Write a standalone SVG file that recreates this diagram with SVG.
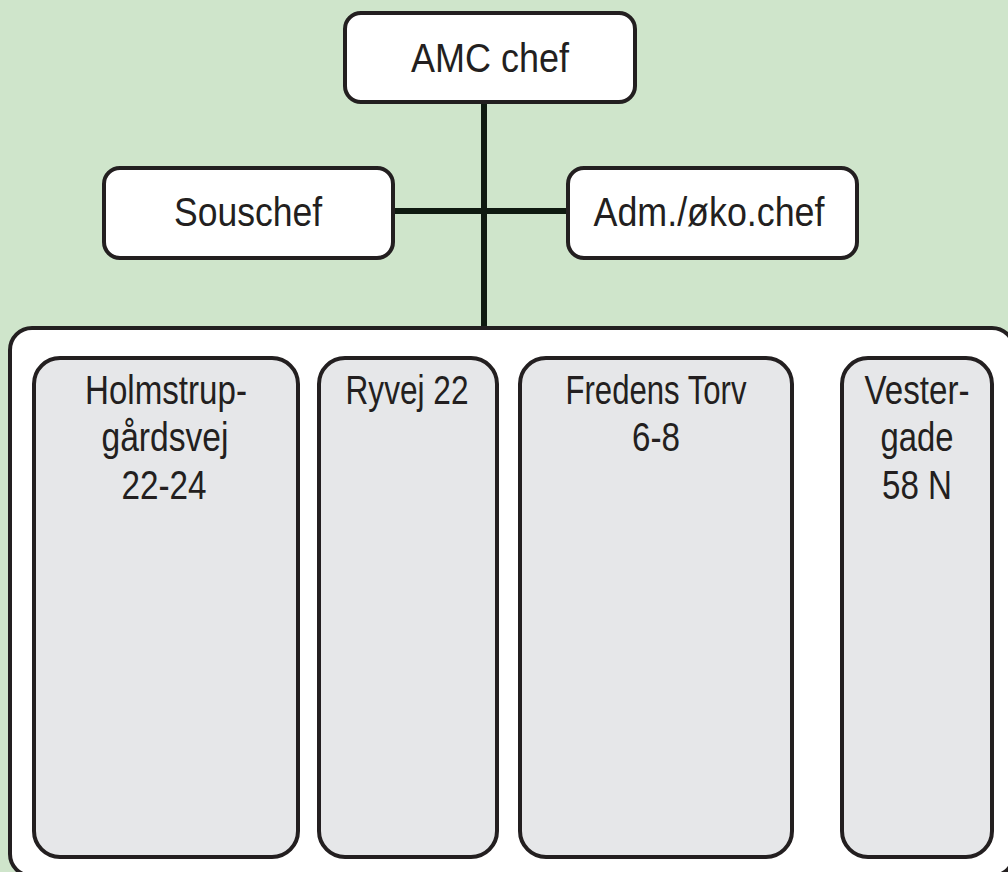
<svg xmlns="http://www.w3.org/2000/svg" width="1008" height="872" viewBox="0 0 1008 872">
  <style>
    .box { fill: #ffffff; stroke: #231f20; stroke-width: 4; }
    .site { fill: #e6e7e9; stroke: #231f20; stroke-width: 4; }
    .link { stroke: #0f1a10; stroke-width: 6; fill: none; }
    text { font-family: "Liberation Sans", Arial, sans-serif; font-size: 40px; fill: #231f20; text-anchor: middle; }
  </style>
  <rect width="1008" height="872" fill="#cfe5cb"/>

  <g id="connectors">
    <line class="link" x1="484" y1="100" x2="484" y2="330"/>
    <line class="link" x1="393" y1="211" x2="569" y2="211"/>
  </g>

  <g id="amc-chef">
    <rect class="box" x="345" y="13" width="290" height="89" rx="16"/>
    <text x="490" y="72" textLength="158" lengthAdjust="spacingAndGlyphs">AMC chef</text>
  </g>

  <g id="souschef">
    <rect class="box" x="104" y="168" width="289" height="90" rx="16"/>
    <text x="248" y="226" textLength="148" lengthAdjust="spacingAndGlyphs">Souschef</text>
  </g>

  <g id="adm-oko-chef">
    <rect class="box" x="568" y="168" width="289" height="90" rx="16"/>
    <text x="709" y="226" textLength="231" lengthAdjust="spacingAndGlyphs">Adm./øko.chef</text>
  </g>

  <g id="locations">
    <rect class="box" x="10" y="328" width="1004" height="548" rx="22"/>
  </g>

  <g id="holmstrup">
    <rect class="site" x="34" y="358" width="264" height="499" rx="26"/>
    <text x="166" y="404" textLength="162" lengthAdjust="spacingAndGlyphs">Holmstrup-</text>
    <text x="165" y="451" textLength="127" lengthAdjust="spacingAndGlyphs">gårdsvej</text>
    <text x="164" y="499" textLength="85" lengthAdjust="spacingAndGlyphs">22-24</text>
  </g>

  <g id="ryvej">
    <rect class="site" x="319" y="358" width="178" height="499" rx="26"/>
    <text x="407" y="404" textLength="123" lengthAdjust="spacingAndGlyphs">Ryvej 22</text>
  </g>

  <g id="fredens-torv">
    <rect class="site" x="520" y="358" width="272" height="499" rx="26"/>
    <text x="656" y="404" textLength="181" lengthAdjust="spacingAndGlyphs">Fredens Torv</text>
    <text x="656" y="451" textLength="48" lengthAdjust="spacingAndGlyphs">6-8</text>
  </g>

  <g id="vestergade">
    <rect class="site" x="842" y="358" width="150" height="499" rx="26"/>
    <text x="917" y="404" textLength="105" lengthAdjust="spacingAndGlyphs">Vester-</text>
    <text x="917" y="451" textLength="73" lengthAdjust="spacingAndGlyphs">gade</text>
    <text x="917" y="499" textLength="70" lengthAdjust="spacingAndGlyphs">58 N</text>
  </g>
</svg>
